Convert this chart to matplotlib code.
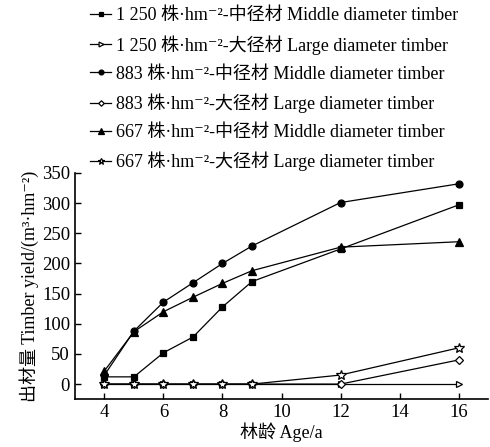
"""Timber yield by stand age for three planting densities."""
import matplotlib
matplotlib.use("Agg")
import matplotlib.pyplot as plt  # noqa: E402

plt.rcParams["font.family"] = ["Liberation Serif", "Noto Sans CJK SC", "DejaVu Sans"]

AGES = [4, 5, 6, 7, 8, 9, 12, 16]
MID_1250 = [12, 12, 52, 78, 128, 170, 224, 297]
LARGE_1250 = [0, 0, 0, 0, 0, 0, 0, 0]
MID_883 = [15, 88, 136, 168, 200, 229, 301, 332]
LARGE_883 = [0, 0, 0, 0, 0, 0, 0, 40]
MID_667 = [22, 87, 120, 144, 167, 188, 227, 236]
LARGE_667 = [0, 0, 0, 0, 0, 0, 15, 60]

LABELS = [
    "1 250 株·hm⁻²-中径材 Middle diameter timber",
    "1 250 株·hm⁻²-大径材 Large diameter timber",
    "883 株·hm⁻²-中径材 Middle diameter timber",
    "883 株·hm⁻²-大径材 Large diameter timber",
    "667 株·hm⁻²-中径材 Middle diameter timber",
    "667 株·hm⁻²-大径材 Large diameter timber",
]

fig = plt.figure(figsize=(4.9, 4.47), dpi=100)
ax = fig.add_axes([0.153, 0.107, 0.843, 0.506])

series = [
    (MID_1250, "s", "black", 5),
    (LARGE_1250, ">", "white", 5),
    (MID_883, "o", "black", 5),
    (LARGE_883, "D", "white", 4),
    (MID_667, "^", "black", 5.5),
    (LARGE_667, "*", "white", 7),
]
for (vals, mk, fc, ms), lab in zip(series, LABELS):
    ax.plot(AGES, vals, color="black", lw=0.9, marker=mk, mfc=fc,
            mec="black", ms=ms, mew=0.9, label=lab)

ax.set_xlim(3, 17)
ax.set_ylim(-25, 350)
ax.set_xticks([4, 6, 8, 10, 12, 14, 16])
ax.set_yticks(range(0, 351, 50))
ax.tick_params(direction="in", labelsize=13.5, length=4, width=1)
for s in ("top", "right"):
    ax.spines[s].set_visible(False)
for s in ("left", "bottom"):
    ax.spines[s].set_linewidth(1.2)
ax.set_xlabel("林龄 Age/a", fontsize=13, labelpad=1)
ax.set_ylabel("出材量 Timber yield/(m³·hm⁻²)", fontsize=13, labelpad=2)

h, l = ax.get_legend_handles_labels()
fig.legend(h, l, loc="upper left", bbox_to_anchor=(0.15, 1.02), frameon=False,
           fontsize=13, handlelength=1.2, handletextpad=0.25, labelspacing=0.6,
           markerscale=0.7)

fig.savefig("out.png", dpi=100)
